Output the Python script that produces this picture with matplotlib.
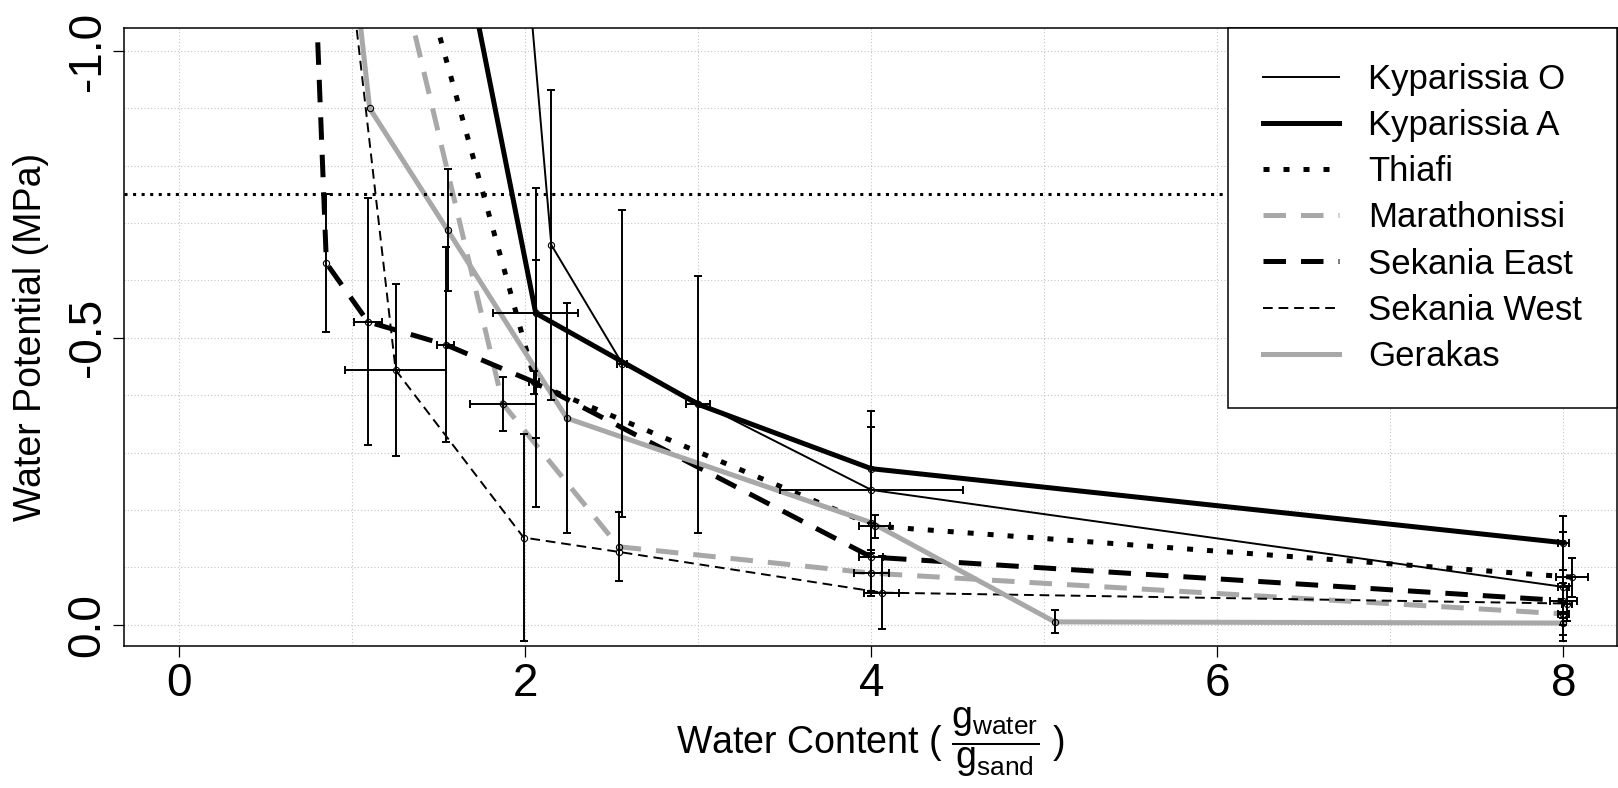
import matplotlib
matplotlib.use("Agg")
import matplotlib.pyplot as plt
from matplotlib.lines import Line2D
import numpy as np

plt.rcParams['font.family'] = ['Liberation Sans', 'DejaVu Sans']
plt.rcParams['mathtext.fontset'] = 'custom'
plt.rcParams['mathtext.rm'] = 'Liberation Sans'
plt.rcParams['mathtext.it'] = 'Liberation Sans'

# Data (water content in g/g, water potential in MPa)
kyp_o_x = [1.91, 2.15, 2.56, 4.00, 8.00]
kyp_o_y = [-1.50, -0.662, -0.455, -0.235, -0.066]
kyp_o_xerr = [0, 0, 0.03, 0.53, 0.03]
kyp_o_yerr = [0, 0.27, 0.267, 0.11, 0.095]

kyp_a_x = [1.43, 2.06, 3.00, 4.00, 8.00]
kyp_a_y = [-1.50, -0.543, -0.384, -0.272, -0.143]
kyp_a_xerr = [0, 0.245, 0.07, 0, 0.03]
kyp_a_yerr = [0, 0.218, 0.224, 0.10, 0.047]

thiafi_x = [1.07, 2.06, 4.02, 8.05]
thiafi_y = [-1.50, -0.42, -0.172, -0.083]
thiafi_xerr = [0, 0, 0.09, 0.09]
thiafi_yerr = [0, 0.215, 0.02, 0.034]

mara_x = [0.99, 1.87, 2.54, 4.00, 8.00]
mara_y = [-1.50, -0.385, -0.136, -0.090, -0.019]
mara_xerr = [0, 0.19, 0, 0.10, 0.03]
mara_yerr = [0, 0.047, 0.06, 0.04, 0.02]

sek_e_x = [0.80, 0.85, 1.09, 1.54, 2.05, 4.00, 8.00]
sek_e_y = [-1.015, -0.63, -0.528, -0.488, -0.423, -0.118, -0.042]
sek_e_xerr = [0, 0, 0.08, 0.05, 0.03, 0.07, 0.08]
sek_e_yerr = [0, 0.12, 0.215, 0.17, 0.02, 0.06, 0.03]

sek_w_x = [0.85, 1.25, 1.99, 2.54, 4.06, 8.02]
sek_w_y = [-1.50, -0.444, -0.152, -0.127, -0.056, -0.037]
sek_w_xerr = [0, 0.29, 0, 0, 0.10, 0.03]
sek_w_yerr = [0, 0.15, 0.18, 0, 0.064, 0.03]

ger_x = [0.88, 1.10, 1.55, 2.24, 4.00, 5.06, 8.00]
ger_y = [-1.50, -0.90, -0.688, -0.36, -0.178, -0.005, -0.003]
ger_xerr = [0, 0, 0, 0, 0, 0, 0]
ger_yerr = [0, 0, 0.106, 0.20, 0, 0.02, 0.02]

ref_level = -0.75

x_ticks = [0, 2, 4, 6, 8]
x_tick_labels = ['0', '2', '4', '6', '8']
y_ticks = [-1.0, -0.5, 0.0]
y_tick_labels = ['-1.0', '-0.5', '0.0']

grey = '#a8a8a8'
series = [
    ('Kyparissia O', kyp_o_x, kyp_o_y, kyp_o_xerr, kyp_o_yerr, 'black', 1.4, '-'),
    ('Kyparissia A', kyp_a_x, kyp_a_y, kyp_a_xerr, kyp_a_yerr, 'black', 3.6, '-'),
    ('Thiafi', thiafi_x, thiafi_y, thiafi_xerr, thiafi_yerr, 'black', 3.6, (0, (1.2, 2.8))),
    ('Marathonissi', mara_x, mara_y, mara_xerr, mara_yerr, grey, 3.6, (0, (4.5, 3))),
    ('Sekania East', sek_e_x, sek_e_y, sek_e_xerr, sek_e_yerr, 'black', 3.6, (0, (4.5, 3))),
    ('Sekania West', sek_w_x, sek_w_y, sek_w_xerr, sek_w_yerr, 'black', 1.4, (0, (5, 3))),
    ('Gerakas', ger_x, ger_y, ger_xerr, ger_yerr, grey, 3.6, '-'),
]

fig = plt.figure(figsize=(16.18, 7.88), dpi=100)
ax = fig.add_axes([124 / 1618, 1 - 646 / 788, 1493 / 1618, 618 / 788])

handles = []
for name, x, y, xe, ye, col, lw, ls in series:
    x = np.array(x); y = np.array(y); xe = np.array(xe); ye = np.array(ye)
    ax.plot(x, y, color=col, lw=lw, ls=ls, zorder=2)
    # first point of each curve carries no symbol
    ax.plot(x, y, 'o', ms=4.5, mfc='none', mec='black', mew=0.8, zorder=4,
            markevery=list(range(1, len(x))))
    m = xe > 0
    if m.any():
        ax.errorbar(x[m], y[m], xerr=xe[m], fmt='none', ecolor='black',
                    elinewidth=1.4, capsize=3, capthick=1.4, zorder=3)
    m = ye > 0
    if m.any():
        ax.errorbar(x[m], y[m], yerr=ye[m], fmt='none', ecolor='black',
                    elinewidth=1.4, capsize=3, capthick=1.4, zorder=3)
    handles.append(Line2D([], [], color=col, lw=lw, ls=ls, label=name))

ax.axhline(ref_level, color='black', lw=2.2, ls=(0, (1, 1.8)), zorder=2)

ax.set_xlim(-0.32, 8.31)
ax.set_ylim(0.037, -1.04)

ax.set_xticks(x_ticks, x_tick_labels, fontsize=33)
ax.set_xticks(np.arange(0, 9, 1), minor=True)
ax.set_yticks(y_ticks, y_tick_labels, fontsize=33, rotation=90, va='center')
ax.set_yticks(np.arange(-1.0, 0.01, 0.1), minor=True)
ax.tick_params(which='major', direction='out', length=7.9, width=0.9, color='black')
ax.tick_params(axis='x', pad=3.6)
ax.tick_params(axis='y', pad=2.5)
ax.tick_params(which='minor', length=0)
ax.grid(which='both', color='#c4c4c4', lw=0.8, ls=(0, (1, 2)), zorder=0)
ax.set_axisbelow(True)

for sp in ax.spines.values():
    sp.set_linewidth(1.1)
    sp.set_color('black')

ax.set_ylabel('Water Potential (MPa)', fontsize=27, va='center')
ax.yaxis.set_label_coords(-0.0623, 0.5)
ax.set_xlabel(r'Water Content ( $\dfrac{\mathrm{g}_{\mathrm{water}}}{\mathrm{g}_{\mathrm{sand}}}$ )',
              fontsize=27, va='center')
ax.xaxis.set_label_coords(0.5, -0.155)

leg = ax.legend(handles=handles, loc='upper right', borderaxespad=0, fontsize=25,
                frameon=True, fancybox=False, framealpha=1, edgecolor='black',
                handlelength=2.2, handletextpad=0.85, labelspacing=0.38, borderpad=1.0)
leg.get_frame().set_linewidth(1.1)

fig.savefig('out.png', dpi=100)
